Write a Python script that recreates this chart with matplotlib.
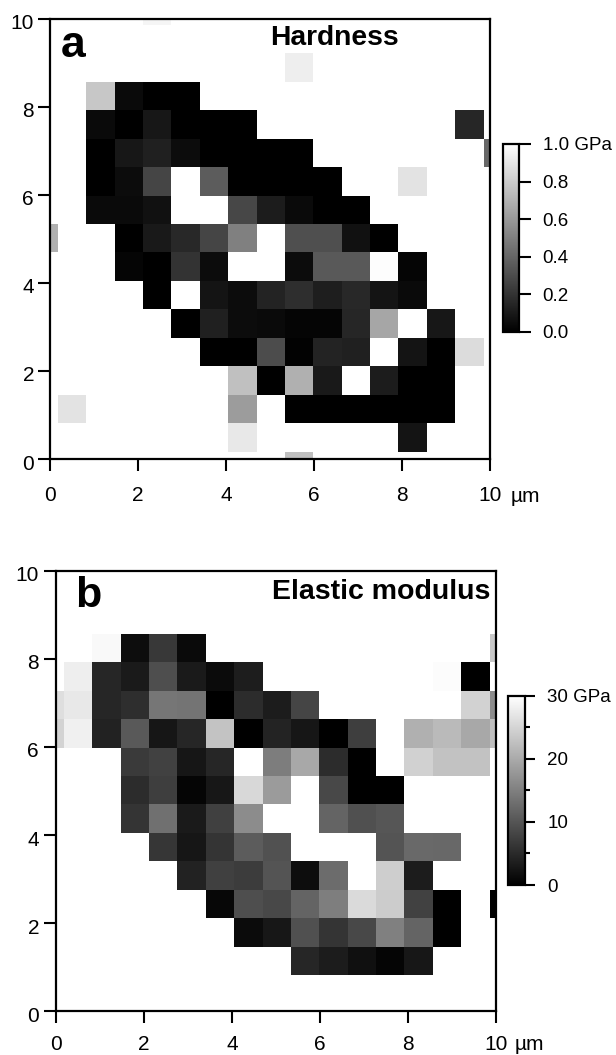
import numpy as np
import matplotlib
matplotlib.use('Agg')
import matplotlib.pyplot as plt
from matplotlib.transforms import ScaledTranslation

plt.rcParams['font.family'] = ['Liberation Sans', 'DejaVu Sans']

W, H = 616, 1055

# maps in GPa, rows listed from the top of the picture, white cells are at/above scale max
hardness = [
    [1, 1, 1, 1, .96, 1, 1, 1, 1, 1, 1, 1, 1, 1, 1, 1, 1],
    [1, 1, 1, 1, 1, 1, 1, 1, 1, 1, 1, 1, 1, 1, 1, 1, 1],
    [1, 1, 1, 1, 1, 1, 1, 1, 1, .93, 1, 1, 1, 1, 1, 1, 1],
    [1, 1, .78, .04, 0, 0, 1, 1, 1, 1, 1, 1, 1, 1, 1, 1, 1],
    [1, 1, .04, 0, .09, 0, 0, 0, 1, 1, 1, 1, 1, 1, 1, .15, 1],
    [1, 1, 0, .09, .13, .05, 0, 0, 0, 0, 1, 1, 1, 1, 1, 1, .41],
    [1, 1, 0, .05, .27, 1, .36, 0, 0, 0, 0, 1, 1, .89, 1, 1, 1],
    [1, 1, .04, .04, .07, 1, 1, .28, .11, .04, 0, 0, 1, 1, 1, 1, 1],
    [.69, 1, 1, 0, .10, .16, .27, .50, 1, .31, .31, .07, 0, 1, 1, 1, 1],
    [1, 1, 1, .02, 0, .20, .05, 1, 1, .05, .35, .35, .99, .02, 1, 1, 1],
    [1, 1, 1, 1, 0, 1, .08, .05, .14, .18, .12, .16, .08, .04, 1, 1, 1],
    [1, 1, 1, 1, 1, 0, .13, .05, .04, .02, .02, .15, .65, 1, .09, 1, 1],
    [1, 1, 1, 1, 1, 1, 0, 0, .30, .01, .14, .13, 1, .08, 0, .86, 1],
    [1, 1, 1, 1, 1, 1, 1, .75, 0, .69, .10, 1, .11, 0, 0, 1, 1],
    [1, .89, 1, 1, 1, 1, 1, .61, 1, 0, 0, 0, 0, 0, 0, 1, 1],
    [1, 1, 1, 1, 1, 1, 1, .91, 1, 1, 1, 1, 1, .08, 1, 1, 1],
    [1, 1, 1, 1, 1, 1, 1, 1, 1, .75, 1, 1, 1, 1, 1, 1, 1],
]

modulus = [
    [30, 30, 30, 30, 30, 30, 30, 30, 30, 30, 30, 30, 30, 30, 30, 30, 30],
    [30, 30, 30, 30, 30, 30, 30, 30, 30, 30, 30, 30, 30, 30, 30, 30, 30],
    [30, 30, 30, 30, 30, 30, 30, 30, 30, 30, 30, 30, 30, 30, 30, 30, 30],
    [30, 30, 29.2, 1.6, 6.6, 1.2, 30, 30, 30, 30, 30, 30, 30, 30, 30, 30, 23.5],
    [30, 28, 4.5, 3.1, 9.2, 3.1, 1.4, 3.5, 30, 30, 30, 30, 30, 30, 29.6, 0, 30],
    [26.1, 27.3, 4.5, 5.4, 13.9, 13.6, 0, 5.2, 3.3, 8.2, 30, 30, 30, 30, 30, 24.7, 16.5],
    [24.9, 28.2, 4, 10.6, 2.6, 4.5, 22.9, 0, 4.2, 2.6, 0, 7.3, 30, 20.7, 21.9, 19.8, 22.4],
    [30, 30, 30, 6.8, 7.8, 2.6, 4.5, 30, 14.7, 19.8, 5.2, 0, 30, 24.5, 22.8, 22.8, 30],
    [30, 30, 30, 5.2, 7.3, .7, 2.8, 25.4, 18.2, 30, 8.5, 0, 0, 30, 30, 30, 30],
    [30, 30, 30, 6.1, 13.2, 3.1, 7.5, 16.5, 30, 30, 11.8, 9.4, 10.1, 30, 30, 30, 30],
    [30, 30, 30, 30, 6.4, 2.6, 6.1, 10.8, 9.6, 30, 30, 30, 9.9, 12.5, 12.2, 30, 30],
    [30, 30, 30, 30, 30, 4, 7.5, 7.1, 9.9, 1.6, 12.7, 30, 24.2, 3.3, 30, 30, 30],
    [30, 30, 30, 30, 30, 30, .9, 9.2, 8.5, 11.8, 14.8, 25.6, 24, 7.8, 0, 30, 0],
    [30, 30, 30, 30, 30, 30, 30, 1.4, 2.8, 9.4, 6.1, 8.5, 15.1, 11.8, 0, 30, 30],
    [30, 30, 30, 30, 30, 30, 30, 30, 30, 4.5, 3.3, 1.9, .7, 2.8, 30, 30, 30],
    [30, 30, 30, 30, 30, 30, 30, 30, 30, 30, 30, 30, 30, 30, 30, 30, 30],
    [30, 30, 30, 30, 30, 30, 30, 30, 30, 30, 30, 30, 30, 30, 30, 30, 30],
]

axis_ticks = [0, 2, 4, 6, 8, 10]
axis_labels = ['0', '2', '4', '6', '8', '10']
hardness_ticks = [0.0, 0.2, 0.4, 0.6, 0.8, 1.0]
hardness_labels = ['0.0', '0.2', '0.4', '0.6', '0.8', '1.0 GPa']
modulus_ticks = [0, 10, 20, 30]
modulus_minor = [5, 15, 25]
modulus_labels = ['0', '10', '20', '30 GPa']


def px_axes(fig, left, top, right, bottom):
    return fig.add_axes([left / W, 1 - bottom / H, (right - left) / W, (bottom - top) / H])


def px_text(fig, x, y, s, **kw):
    fig.text(x / W, 1 - y / H, s, ha='left', va='baseline', **kw)


def draw_map(fig, box, data, vmax, xpad, ypad):
    ax = px_axes(fig, *box)
    im = ax.imshow(data, cmap='gray', vmin=0, vmax=vmax, interpolation='nearest',
                   extent=[-0.465, 10.5, -0.478, 10.487], aspect='auto')
    ax.set_xlim(0, 10)
    ax.set_ylim(0, 10)
    ax.set_xticks(axis_ticks)
    ax.set_xticklabels(axis_labels)
    ax.set_yticks(axis_ticks)
    ax.set_yticklabels(axis_labels)
    ax.tick_params(axis='x', length=8.6, width=1.5, labelsize=15, pad=xpad)
    ax.tick_params(axis='y', length=8.6, width=1.5, labelsize=15, pad=ypad)
    # y labels sit a little below their ticks in the original
    down = ScaledTranslation(0, -2.2 / 72, fig.dpi_scale_trans)
    for t in ax.get_yticklabels():
        t.set_transform(t.get_transform() + down)
    for s in ax.spines.values():
        s.set_linewidth(1.6)
    return im


def draw_bar(fig, box, im, ticks, labels, tick_len):
    cax = px_axes(fig, *box)
    cb = fig.colorbar(im, cax=cax)
    cb.set_ticks(ticks)
    cb.set_ticklabels(labels)
    cb.outline.set_linewidth(1.6)
    cax.tick_params(axis='y', which='major', length=tick_len, width=1.5, labelsize=13.5, pad=9)
    return cax


fig = plt.figure(figsize=(W / 100, H / 100), dpi=100)

im_a = draw_map(fig, (50, 18.5, 490, 459), hardness, 1.0, 11, 2.9)
draw_bar(fig, (503, 144, 518.5, 332), im_a, hardness_ticks, hardness_labels, 8.3)
px_text(fig, 510.5, 501.7, 'µm', fontsize=15)
px_text(fig, 270, 45, 'Hardness', fontsize=20.3, fontweight='bold')
px_text(fig, 61, 56.7, 'a', fontsize=32, fontweight='bold')

im_b = draw_map(fig, (56, 570.7, 495.7, 1011.3), modulus, 30, 8.5, 3.6)
cax_b = draw_bar(fig, (508.3, 695.7, 525, 885), im_b, modulus_ticks, modulus_labels, 7)
cax_b.set_yticks(modulus_minor, minor=True)
cax_b.tick_params(axis='y', which='minor', length=3.5, width=1.5)
px_text(fig, 515, 1050.5, 'µm', fontsize=15)
px_text(fig, 272, 599, 'Elastic modulus', fontsize=20.5, fontweight='bold')
px_text(fig, 75.5, 606.7, 'b', fontsize=31, fontweight='bold')

fig.savefig('out.png', dpi=100, facecolor='white')
